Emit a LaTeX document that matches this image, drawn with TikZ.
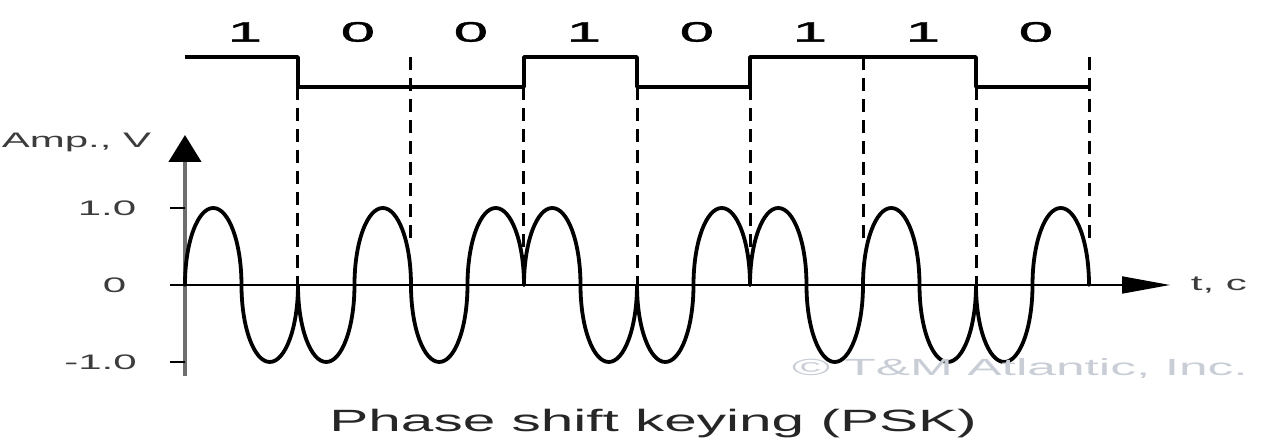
\documentclass[tikz,border=0pt]{standalone}
\usepackage{fontspec}
\setmainfont{Liberation Sans}
\newfontfamily\heavysans[FakeBold=1.2]{Liberation Sans}
\usetikzlibrary{arrows.meta}
\definecolor{wmgray}{RGB}{200,205,214}
\definecolor{lblgray}{RGB}{60,60,60}
\definecolor{axgray}{RGB}{110,110,110}
\begin{document}
\begin{tikzpicture}[x=56.5pt,y=38.5pt,line join=round,
    sig/.style={line width=1.9pt},
    wave/.style={line width=1.9pt,line cap=round},
    guide/.style={line width=1.5pt,dash pattern=on 6.5pt off 4pt},
    bit/.style={font=\heavysans\fontsize{14}{14}\selectfont,xscale=2.2,inner sep=0pt},
    axlbl/.style={font=\fontsize{10.5}{10.5}\selectfont,text=lblgray,xscale=2,inner sep=0pt}]
  \useasboundingbox (-1.637,-2.0) rectangle (9.522,3.701);
  % axes
  \draw[line width=2.2pt,axgray,-{Triangle[length=13.5pt,width=16pt,color=black]}] (0,-1.182) -- (0,1.948);
  \draw[line width=0.9pt,-{Triangle[length=24pt,width=8.5pt]}] (-0.133,0) -- (8.717,0);
  \draw[line width=0.9pt] (-0.133,1) -- (0,1);
  \draw[line width=0.9pt] (-0.133,-1) -- (0,-1);
  \node[axlbl,anchor=base east] (amp) at (-0.292,1.779) {Amp., V};
  \node[axlbl,anchor=east] (one) at (-0.425,1) {1.0};
  \node[axlbl,anchor=east] (zero) at (-0.513,0) {0};
  \node[axlbl,anchor=east] (mone) at (-0.42,-1) {-1.0};
  \node[axlbl,anchor=west] (time) at (8.894,0) {t, c};
  % bit stream
  \draw[sig] (0,2.961) -- (1,2.961) -- (1,2.571) -- (3,2.571) -- (3,2.961) -- (4,2.961)
    -- (4,2.571) -- (5,2.571) -- (5,2.961) -- (7,2.961) -- (7,2.571) -- (8,2.571);
  \foreach \b [count=\i from 0] in {1,0,0,1,0,1,1,0}
    \node[bit] (bit\i) at (\i+0.53,3.286) {\b};
  % guides
  \foreach \t in {1,3,4,5,7}
    \draw[guide] (\t,2.571) -- (\t,0);
  \foreach \t in {2,6,8}
    \draw[guide] (\t,2.961) -- (\t,0.584);
  % PSK carrier
  \foreach \b [count=\i from 0] in {1,0,0,1,0,1,1,0} {
    \pgfmathsetmacro\s{2*\b-1}
    \draw[wave] (\i,0) arc[start angle=180,delta angle={-180*(\s)},x radius=0.25,y radius=1]
      arc[start angle=180,delta angle={180*(\s)},x radius=0.25,y radius=1];
  }
  \node[font=\fontsize{11.7}{11.7}\selectfont,text=wmgray,xscale=2.2,inner sep=0pt,anchor=base] (wm) at (7.389,-1.169) {\textcopyright\ T\&M Atlantic, Inc.};
  \node[font=\fontsize{15.4}{15.4}\selectfont,text=black!85,xscale=1.9,inner sep=0pt,anchor=base] (title) at (4.142,-1.909) {Phase shift keying (PSK)};
\end{tikzpicture}
\end{document}
